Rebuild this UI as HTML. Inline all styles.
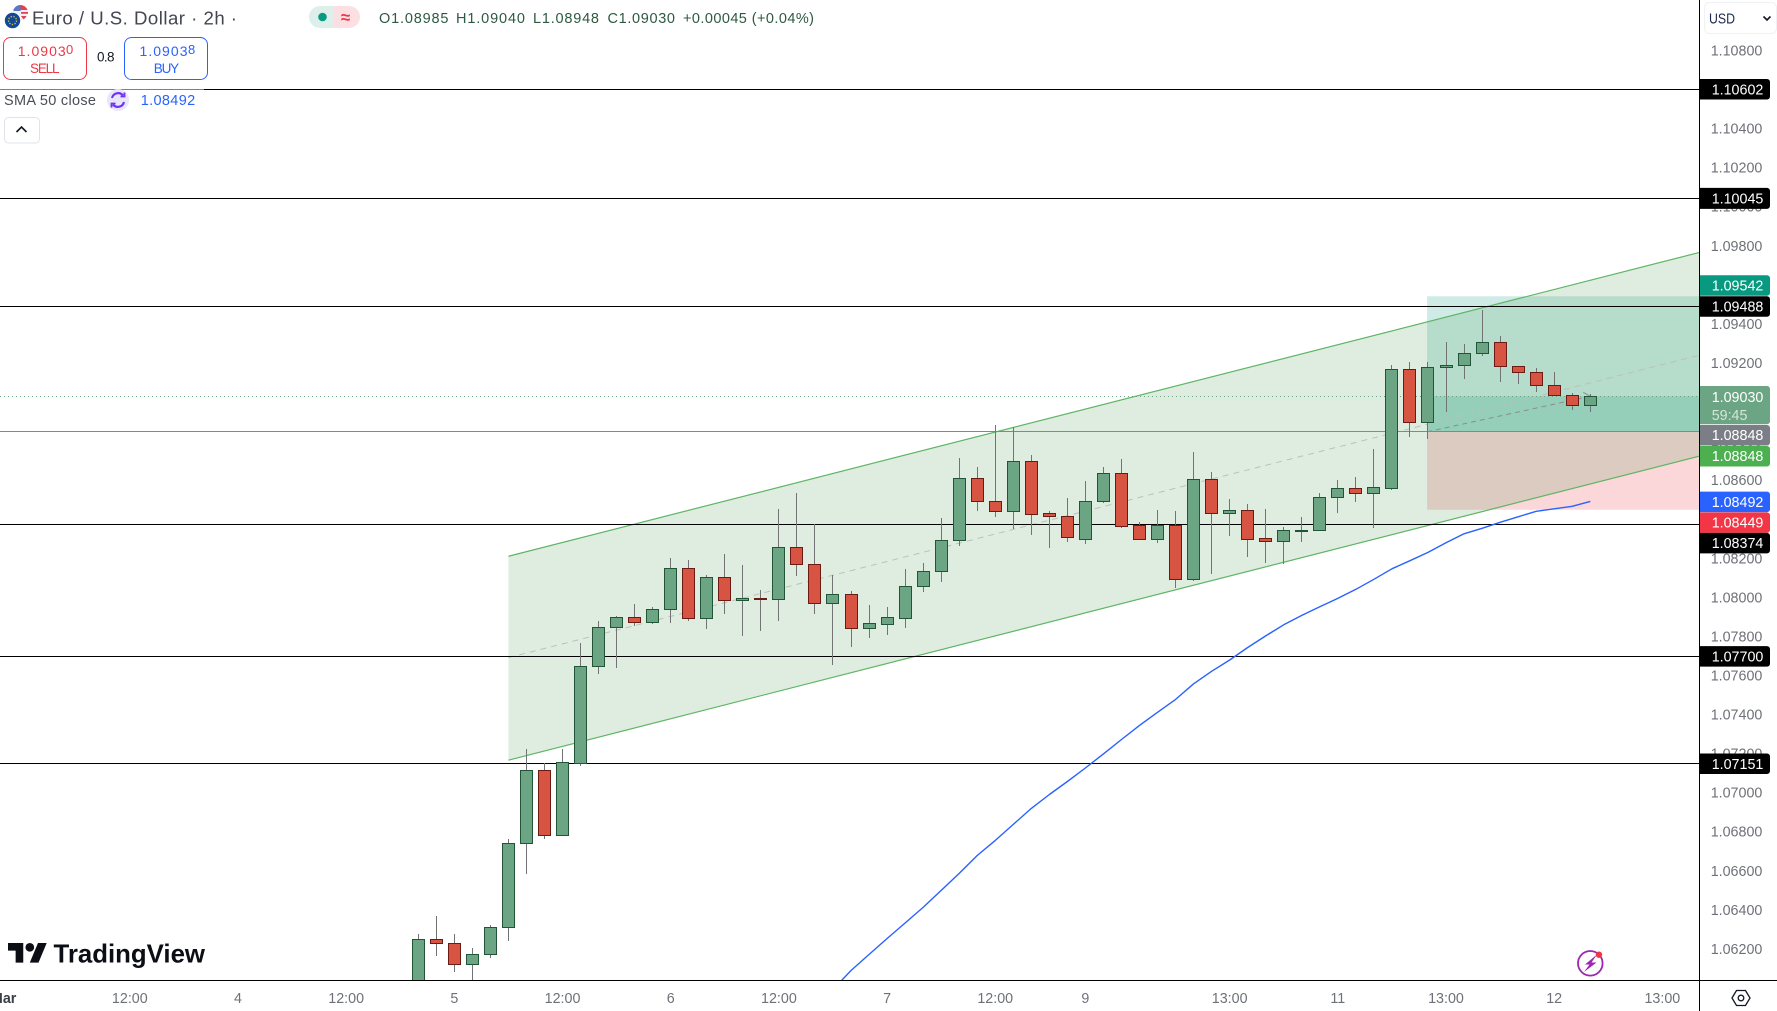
<!DOCTYPE html>
<html lang="en">
<head>
<meta charset="utf-8">
<title>Euro / U.S. Dollar 2h chart</title>
<style>
html,body{margin:0;padding:0;background:#fff;width:1777px;height:1011px;overflow:hidden}
svg{position:absolute;left:0;top:0;display:block}
text{font-family:"Liberation Sans",sans-serif}
</style>
</head>
<body>
<svg id="chart" xmlns="http://www.w3.org/2000/svg" width="1777" height="1011" viewBox="0 0 1777 1011">
  <defs>
    <clipPath id="plot-clip"><rect x="0" y="0" width="1699" height="980"></rect></clipPath>
  </defs>
  <rect x="0" y="0" width="1777" height="1011" fill="#ffffff"></rect>
  <g id="plot" clip-path="url(#plot-clip)"></g>
  <rect x="0" y="85" width="204" height="8" fill="#ffffff" fill-opacity="0.5"></rect>

  <g id="price-axis"></g>
  <g id="time-axis"></g>
  <line x1="1699.5" y1="0" x2="1699.5" y2="1011" stroke="#000" stroke-width="1"></line>
  <line x1="0" y1="980.5" x2="1777" y2="980.5" stroke="#000" stroke-width="1"></line>

  <g>
    <rect x="1704.5" y="2.5" width="72" height="31" rx="5" fill="#fff" stroke="#f0f1f4"></rect>
    <text x="1709" y="23.5" font-size="14.5" fill="#1c2a50" textLength="26" lengthAdjust="spacingAndGlyphs">USD</text>
    <path d="M1763.5 16.5l3.5 3.5 3.5-3.5" fill="none" stroke="#131722" stroke-width="1.6"></path>
  </g>

  <g>
    <g>
      <circle cx="20.5" cy="12.5" r="7.5" fill="#f0f0f4"></circle>
      <path d="M20.5 5a7.5 7.5 0 0 1 7 5h-7zM21 12h7v1.8h-7zM21 16h5.5a7.5 7.5 0 0 1-3 3.4z" fill="#e0404f"></path>
      <path d="M13.5 9.5a7.5 7.5 0 0 1 7-4.5v6h-7z" fill="#5a78c4"></path>
      <circle cx="12.5" cy="20.5" r="8.5" fill="#fff"></circle>
      <circle cx="12.5" cy="20.5" r="7.7" fill="#134a93"></circle>
      <circle cx="12.5" cy="20.5" r="4" fill="none" stroke="#d9c64a" stroke-width="1.3" stroke-dasharray="1.3 1.5"></circle>
    </g>
    <text x="32" y="24.3" font-size="18.6" fill="#434651" textLength="205">Euro / U.S. Dollar · 2h ·</text>
    <g>
      <path d="M320 6h14v22h-14a11 11 0 0 1 0-22z" fill="#dcefeb"></path>
      <path d="M334 6h15a11 11 0 0 1 0 22h-15z" fill="#fbdfe2"></path>
      <circle cx="322.5" cy="17" r="4.3" fill="#089981"></circle>
      <text x="345.5" y="23" font-size="17" font-weight="bold" fill="#f23645" text-anchor="middle">≈</text>
    </g>
    <g font-size="14.5" fill="#2d5a40">
      <text x="379" y="23" textLength="69.5">O1.08985</text>
      <text x="456" y="23" textLength="69">H1.09040</text>
      <text x="533" y="23" textLength="66">L1.08948</text>
      <text x="607.5" y="23" textLength="67.5">C1.09030</text>
      <text x="683" y="23" textLength="131">+0.00045 (+0.04%)</text>
    </g>
  </g>

  <g>
    <rect x="3.5" y="37.5" width="83" height="42" rx="7" fill="#fff" stroke="#f23645"></rect>
    <text x="17.7" y="56" font-size="14" fill="#f23645" textLength="48">1.0903</text>
    <text x="66" y="54" font-size="13" fill="#f23645">0</text>
    <text x="30" y="73" font-size="13.5" fill="#f23645" textLength="29.5">SELL</text>
  </g>
  <text x="97" y="61.5" font-size="13.5" fill="#131722" textLength="17.5">0.8</text>
  <g>
    <rect x="124.5" y="37.5" width="83" height="42" rx="7" fill="#fff" stroke="#2962ff"></rect>
    <text x="139.5" y="56" font-size="14" fill="#2962ff" textLength="48">1.0903</text>
    <text x="188" y="54" font-size="13" fill="#2962ff">8</text>
    <text x="153.7" y="73" font-size="13.5" fill="#2962ff" textLength="25.5">BUY</text>
  </g>

  <g>
    <text x="4" y="105" font-size="14.5" fill="#4a4d57" textLength="92">SMA 50 close</text>
    <circle cx="118" cy="100" r="11" fill="#e9e5fb"></circle>
    <g fill="none" stroke="#6d35f0" stroke-width="2.2">
      <path d="M112 98a6.3 6.3 0 0 1 11-2.5"></path>
      <path d="M124 102a6.3 6.3 0 0 1-11 2.5"></path>
      <path d="M124.5 92.5v4h-4M111.5 107.5v-4h4" stroke-width="1.8"></path>
    </g>
    <text x="140.7" y="105" font-size="14.5" fill="#2962ff" textLength="54.5">1.08492</text>
  </g>
  <g>
    <rect x="4.5" y="117.5" width="35" height="25.5" rx="4" fill="#fff" stroke="#e0e3eb"></rect>
    <path d="M16.5 132l5-5 5 5" fill="none" stroke="#131722" stroke-width="1.6"></path>
  </g>

  <g>
    <g transform="translate(8,938.6) scale(1.09)" fill="#0c0e15">
      <path d="M14 22H7V11H0V4h14v18zM28 22h-8l7.5-18h8L28 22z"></path>
      <circle cx="20" cy="8" r="4"></circle>
    </g>
    <text x="53.5" y="962.7" font-size="26" font-weight="bold" fill="#0c0e15" textLength="151.5" lengthAdjust="spacingAndGlyphs">TradingView</text>
  </g>

  <g>
    <circle cx="1590.3" cy="963.3" r="12.3" fill="#fff" stroke="#9c27b0" stroke-width="1.8"></circle>
    <path d="M1597 954.5l-12 10h4.5l-5.5 7.5 12.5-9.500h-5z" fill="#9c27b0"></path>
    <circle cx="1599" cy="954.7" r="3.2" fill="#f23645"></circle>
  </g>

  <g fill="none" stroke="#131722" stroke-width="1.3">
    <path d="M1732 998l4.5-7.5h9l4.5 7.5-4.5 7.5h-9z"></path>
    <circle cx="1741" cy="998" r="2.8"></circle>
  </g>

<script>
// ---- data ----
const candleOpens = [
1.05936,1.06247,1.06227,1.06119,1.06175,1.06309,1.06739,1.07113,1.06780,1.07152,
1.07646,1.07845,1.07897,1.07871,1.07938,1.08148,1.07891,1.08102,1.07984,1.07996,
1.07989,1.08255,1.08168,1.07968,1.08014,1.07840,1.07864,1.07895,1.08055,1.08132,
1.08291,1.08609,1.08491,1.08439,1.08696,1.08429,1.08417,1.08299,1.08491,1.08634,
1.08368,1.08299,1.08368,1.08094,1.08603,1.08432,1.08445,1.08301,1.08289,1.08342,
1.08342,1.08511,1.08557,1.08535,1.08561,1.09167,1.08899,1.09177,1.09187,1.09249,
1.09305,1.09182,1.09152,1.09085,1.09034,1.08985];
const candleHighs = [
1.06274,1.06367,1.06274,1.06203,1.06320,1.06761,1.07222,1.07150,1.07222,1.07765,
1.07878,1.07903,1.07965,1.07949,1.08200,1.08190,1.08113,1.08221,1.08165,1.08036,
1.08451,1.08533,1.08375,1.08113,1.08031,1.07960,1.07949,1.08144,1.08173,1.08405,
1.08713,1.08667,1.08882,1.08870,1.08728,1.08441,1.08508,1.08595,1.08667,1.08708,
1.08385,1.08446,1.08441,1.08743,1.08641,1.08503,1.08477,1.08451,1.08359,1.08410,
1.08533,1.08600,1.08615,1.08759,1.09189,1.09204,1.09204,1.09307,1.09297,1.09471,
1.09338,1.09182,1.09174,1.09153,1.09046,1.09040];
const candleLows = [
1.05885,1.06163,1.06081,1.06013,1.06153,1.06240,1.06583,1.06762,1.06780,1.07136,
1.07608,1.07638,1.07854,1.07864,1.07869,1.07879,1.07838,1.07915,1.07802,1.07828,
1.07879,1.08110,1.07915,1.07654,1.07746,1.07792,1.07807,1.07843,1.08026,1.08077,
1.08263,1.08441,1.08410,1.08349,1.08318,1.08252,1.08284,1.08272,1.08482,1.08356,
1.08299,1.08277,1.08047,1.08083,1.08118,1.08313,1.08205,1.08175,1.08170,1.08282,
1.08342,1.08431,1.08487,1.08354,1.08550,1.08822,1.08811,1.08950,1.09119,1.09237,
1.09100,1.09093,1.09052,1.09034,1.08960,1.08948];
const candleCloses = [
1.06247,1.06227,1.06119,1.06175,1.06309,1.06739,1.07113,1.06780,1.07154,1.07646,
1.07845,1.07897,1.07871,1.07938,1.08148,1.07891,1.08102,1.07984,1.07994,1.07989,
1.08255,1.08168,1.07968,1.08014,1.07840,1.07866,1.07897,1.08055,1.08132,1.08291,
1.08609,1.08491,1.08439,1.08696,1.08428,1.08417,1.08309,1.08491,1.08634,1.08366,
1.08299,1.08368,1.08094,1.08603,1.08432,1.08445,1.08299,1.08289,1.08342,1.08342,
1.08511,1.08557,1.08535,1.08563,1.09169,1.08899,1.09177,1.09187,1.09249,1.09305,
1.09182,1.09152,1.09085,1.09034,1.08983,1.09030];
const smaFirstBar = 23;
const smaValues = [
1.05993,1.06090,1.06172,1.06254,1.06333,1.06413,1.06500,1.06587,1.06679,1.06756,
1.06838,1.06920,1.06991,1.07058,1.07127,1.07199,1.07273,1.07345,1.07412,1.07478,
1.07558,1.07622,1.07680,1.07744,1.07803,1.07860,1.07908,1.07952,1.07995,1.08042,
1.08093,1.08147,1.08188,1.08231,1.08280,1.08326,1.08354,1.08385,1.08413,1.08441,
1.08454,1.08467,1.08492];
const priceTicks = [1.108,1.106,1.104,1.102,1.100,1.098,1.096,1.094,1.092,1.090,1.088,1.086,1.084,1.082,1.080,1.078,1.076,1.074,1.072,1.070,1.068,1.066,1.064,1.062];
const timeTickBars = [-23,-16,-10,-4,2,8,14,20,26,32,37,45,51,57,63,69];
const timeTickLabels = ["Mar","12:00","4","12:00","5","12:00","6","12:00","7","12:00","9","13:00","11","13:00","12","13:00"];
const blackLevels = [1.10602,1.10045,1.09488,1.08374,1.07700,1.07151];
const entryLevel = 1.08848;
const targetLevel = 1.09542;
const stopLevel = 1.08449;
const lastPrice = 1.09030;
const smaLast = 1.08492;
const countdownText = "59:45";
const channelBars = [5,71.03];
const channelUpper = [1.08211,1.09766];
const channelMiddle = [1.07692,1.09240];
const channelLower = [1.07167,1.08723];
const positionBars = [55.95,71.03];

// ---- axis functions ----
function xOf(bar){ return 418.3 + bar * 18.03; }
function yOf(price){ return 50.6 + (1.108 - price) * 19531; }
function snap(v){ return Math.round(v - 0.5) + 0.5; }

const NS = "http://www.w3.org/2000/svg";
const plot = document.getElementById("plot");
const priceAxis = document.getElementById("price-axis");
const timeAxis = document.getElementById("time-axis");
function mk(tag, attrs, parent){
  const e = document.createElementNS(NS, tag);
  for (const k in attrs) e.setAttribute(k, attrs[k]);
  parent.appendChild(e);
  return e;
}

// long position tool (underneath the translucent channel)
const posX = xOf(positionBars[0]);
const posW = xOf(positionBars[1]) - posX;
const profitZone = mk("rect",{x:posX,y:yOf(targetLevel),width:posW,height:yOf(entryLevel)-yOf(targetLevel),fill:"rgba(8,153,129,0.2)"},plot);


const stopZone = mk("rect",{x:posX,y:yOf(entryLevel),width:posW,height:yOf(stopLevel)-yOf(entryLevel),fill:"rgba(242,54,69,0.2)"},plot);


const progressZone = mk("rect",{x:posX,y:yOf(lastPrice),width:posW,height:yOf(entryLevel)-yOf(lastPrice),fill:"rgba(8,153,129,0.2)"},plot);



// channel fill and edges
const chFill = mk("polygon",{points:[
  xOf(channelBars[0])+","+yOf(channelUpper[0]),
  xOf(channelBars[1])+","+yOf(channelUpper[1]),
  xOf(channelBars[1])+","+yOf(channelLower[1]),
  xOf(channelBars[0])+","+yOf(channelLower[0])].join(" "),fill:"rgba(67,150,70,0.17)"},plot);



const chUp = mk("line",{x1:xOf(channelBars[0]),y1:yOf(channelUpper[0]),x2:xOf(channelBars[1]),y2:yOf(channelUpper[1]),stroke:"#5fb565","stroke-width":1.2},plot);


const chLow = mk("line",{x1:xOf(channelBars[0]),y1:yOf(channelLower[0]),x2:xOf(channelBars[1]),y2:yOf(channelLower[1]),stroke:"#5fb565","stroke-width":1.2},plot);


const chMid = mk("line",{x1:xOf(channelBars[0]),y1:yOf(channelMiddle[0]),x2:xOf(channelBars[1]),y2:yOf(channelMiddle[1]),stroke:"#bdbfbd","stroke-width":1,"stroke-dasharray":"6 5"},plot);



// horizontal levels
blackLevels.forEach(function(level){
  const y = Math.floor(yOf(level)) + 0.5;
  const ln = mk("line",{x1:0,y1:y,x2:1699,y2:y,stroke:"#000","stroke-width":1},plot);
  
  
});
const entryY = Math.floor(yOf(entryLevel)) + 0.5;
const entryLine = mk("line",{x1:0,y1:entryY,x2:1699,y2:entryY,stroke:"#4caf50","stroke-width":1},plot);


const lastY = Math.floor(yOf(lastPrice)) + 0.5;
const lastLine = mk("line",{x1:0,y1:lastY,x2:1699,y2:lastY,stroke:"#6ba583","stroke-width":1,"stroke-dasharray":"1 3"},plot);



// position path arrow
const lastBar = candleCloses.length - 1;
const posPath = mk("line",{x1:posX,y1:yOf(entryLevel),x2:xOf(lastBar),y2:yOf(lastPrice),stroke:"#8a8c90","stroke-width":1,"stroke-dasharray":"5 4"},plot);


const posArrow = mk("line",{x1:xOf(lastBar)-7,y1:yOf(lastPrice)-4,x2:xOf(lastBar),y2:yOf(lastPrice),stroke:"#8a8c90","stroke-width":1},plot);



// SMA line
const smaPts = smaValues.map(function(v,i){ return xOf(smaFirstBar+i).toFixed(1)+","+yOf(v).toFixed(1); }).join(" ");
const smaLine = mk("polyline",{points:smaPts,fill:"none",stroke:"#2962ff","stroke-width":1.4,"stroke-linejoin":"round"},plot);



// candles
candleCloses.forEach(function(close,i){
  const open = candleOpens[i];
  const up = close >= open;
  const cx = snap(xOf(i));
  const g = mk("g",{},plot);
  
  
  const wick = mk("line",{x1:cx,y1:Math.round(yOf(candleHighs[i])-0.3),x2:cx,y2:Math.round(yOf(candleLows[i])-0.3),stroke:"#737375","stroke-width":1},g);
  
  
  const top = Math.round(yOf(Math.max(open,close))-0.35) + 0.5;
  const bot = Math.round(yOf(Math.min(open,close))-0.35) + 0.5;
  const body = mk("rect",{x:cx-6,y:top,width:12,height:Math.max(bot-top,1),fill:up?"#6ba583":"#d75442",stroke:up?"#225437":"#6b1a14","stroke-width":1},g);
  
  
});

// price axis ticks
priceTicks.forEach(function(p){
  const t = mk("text",{x:1710.7,y:yOf(p)+4.9,"font-size":14.3,fill:"#6f7178"},priceAxis);
  t.textContent = p.toFixed(5);
  
  
});

// time axis ticks
timeTickBars.forEach(function(bar,i){
  const t = mk("text",{x:xOf(bar),y:1003,"font-size":14.3,fill:timeTickLabels[i]==="Mar"?"#3a3d46":"#6f7178","text-anchor":"middle","font-weight":timeTickLabels[i]==="Mar"?"bold":"normal"},timeAxis);
  t.textContent = timeTickLabels[i];
  
  
});

// price axis tags
function tag(price,color,nudge,h){
  const c = yOf(price) + nudge;
  const top = c - h/2;
  const p = mk("path",{d:"M1700 "+top+"h67a3 3 0 0 1 3 3v"+(h-6)+"a3 3 0 0 1-3 3h-67z",fill:color},priceAxis);
  
  
  const t = mk("text",{x:1711.7,y:c+5,"font-size":14.3,fill:"#ffffff"},priceAxis);
  t.textContent = price.toFixed(5);
  
  
}
tag(blackLevels[0],"#000000",0,20.5);
tag(blackLevels[1],"#000000",0.3,21);
tag(targetLevel,"#089981",-10.8,20.5);
tag(blackLevels[2],"#000000",-0.4,20.5);
tag(entryLevel,"#7c7e87",3.4,20.5);
tag(entryLevel,"#4caf50",24.4,20.5);
tag(smaLast,"#2962ff",0.5,20.5);
tag(stopLevel,"#f23645",12.9,20.5);
tag(blackLevels[3],"#000000",18.7,20.5);
tag(blackLevels[4],"#000000",0.3,20.5);
tag(blackLevels[5],"#000000",0.5,20.5);

// last-price tag with countdown
const lastTagTop = yOf(lastPrice) - 10.3;
const lastTag = mk("path",{d:"M1700 "+lastTagTop+"h67a3 3 0 0 1 3 3v32.3a3 3 0 0 1-3 3h-67z",fill:"#6ba583"},priceAxis);


const lastTagText = mk("text",{x:1711.7,y:lastTagTop+16,"font-size":14.3,fill:"#ffffff"},priceAxis);
lastTagText.textContent = lastPrice.toFixed(5);


const countdown = mk("text",{x:1711.7,y:lastTagTop+34,"font-size":14.3,fill:"#d5e6da"},priceAxis);
countdown.textContent = countdownText;


</script>
</svg>
</body>
</html>
